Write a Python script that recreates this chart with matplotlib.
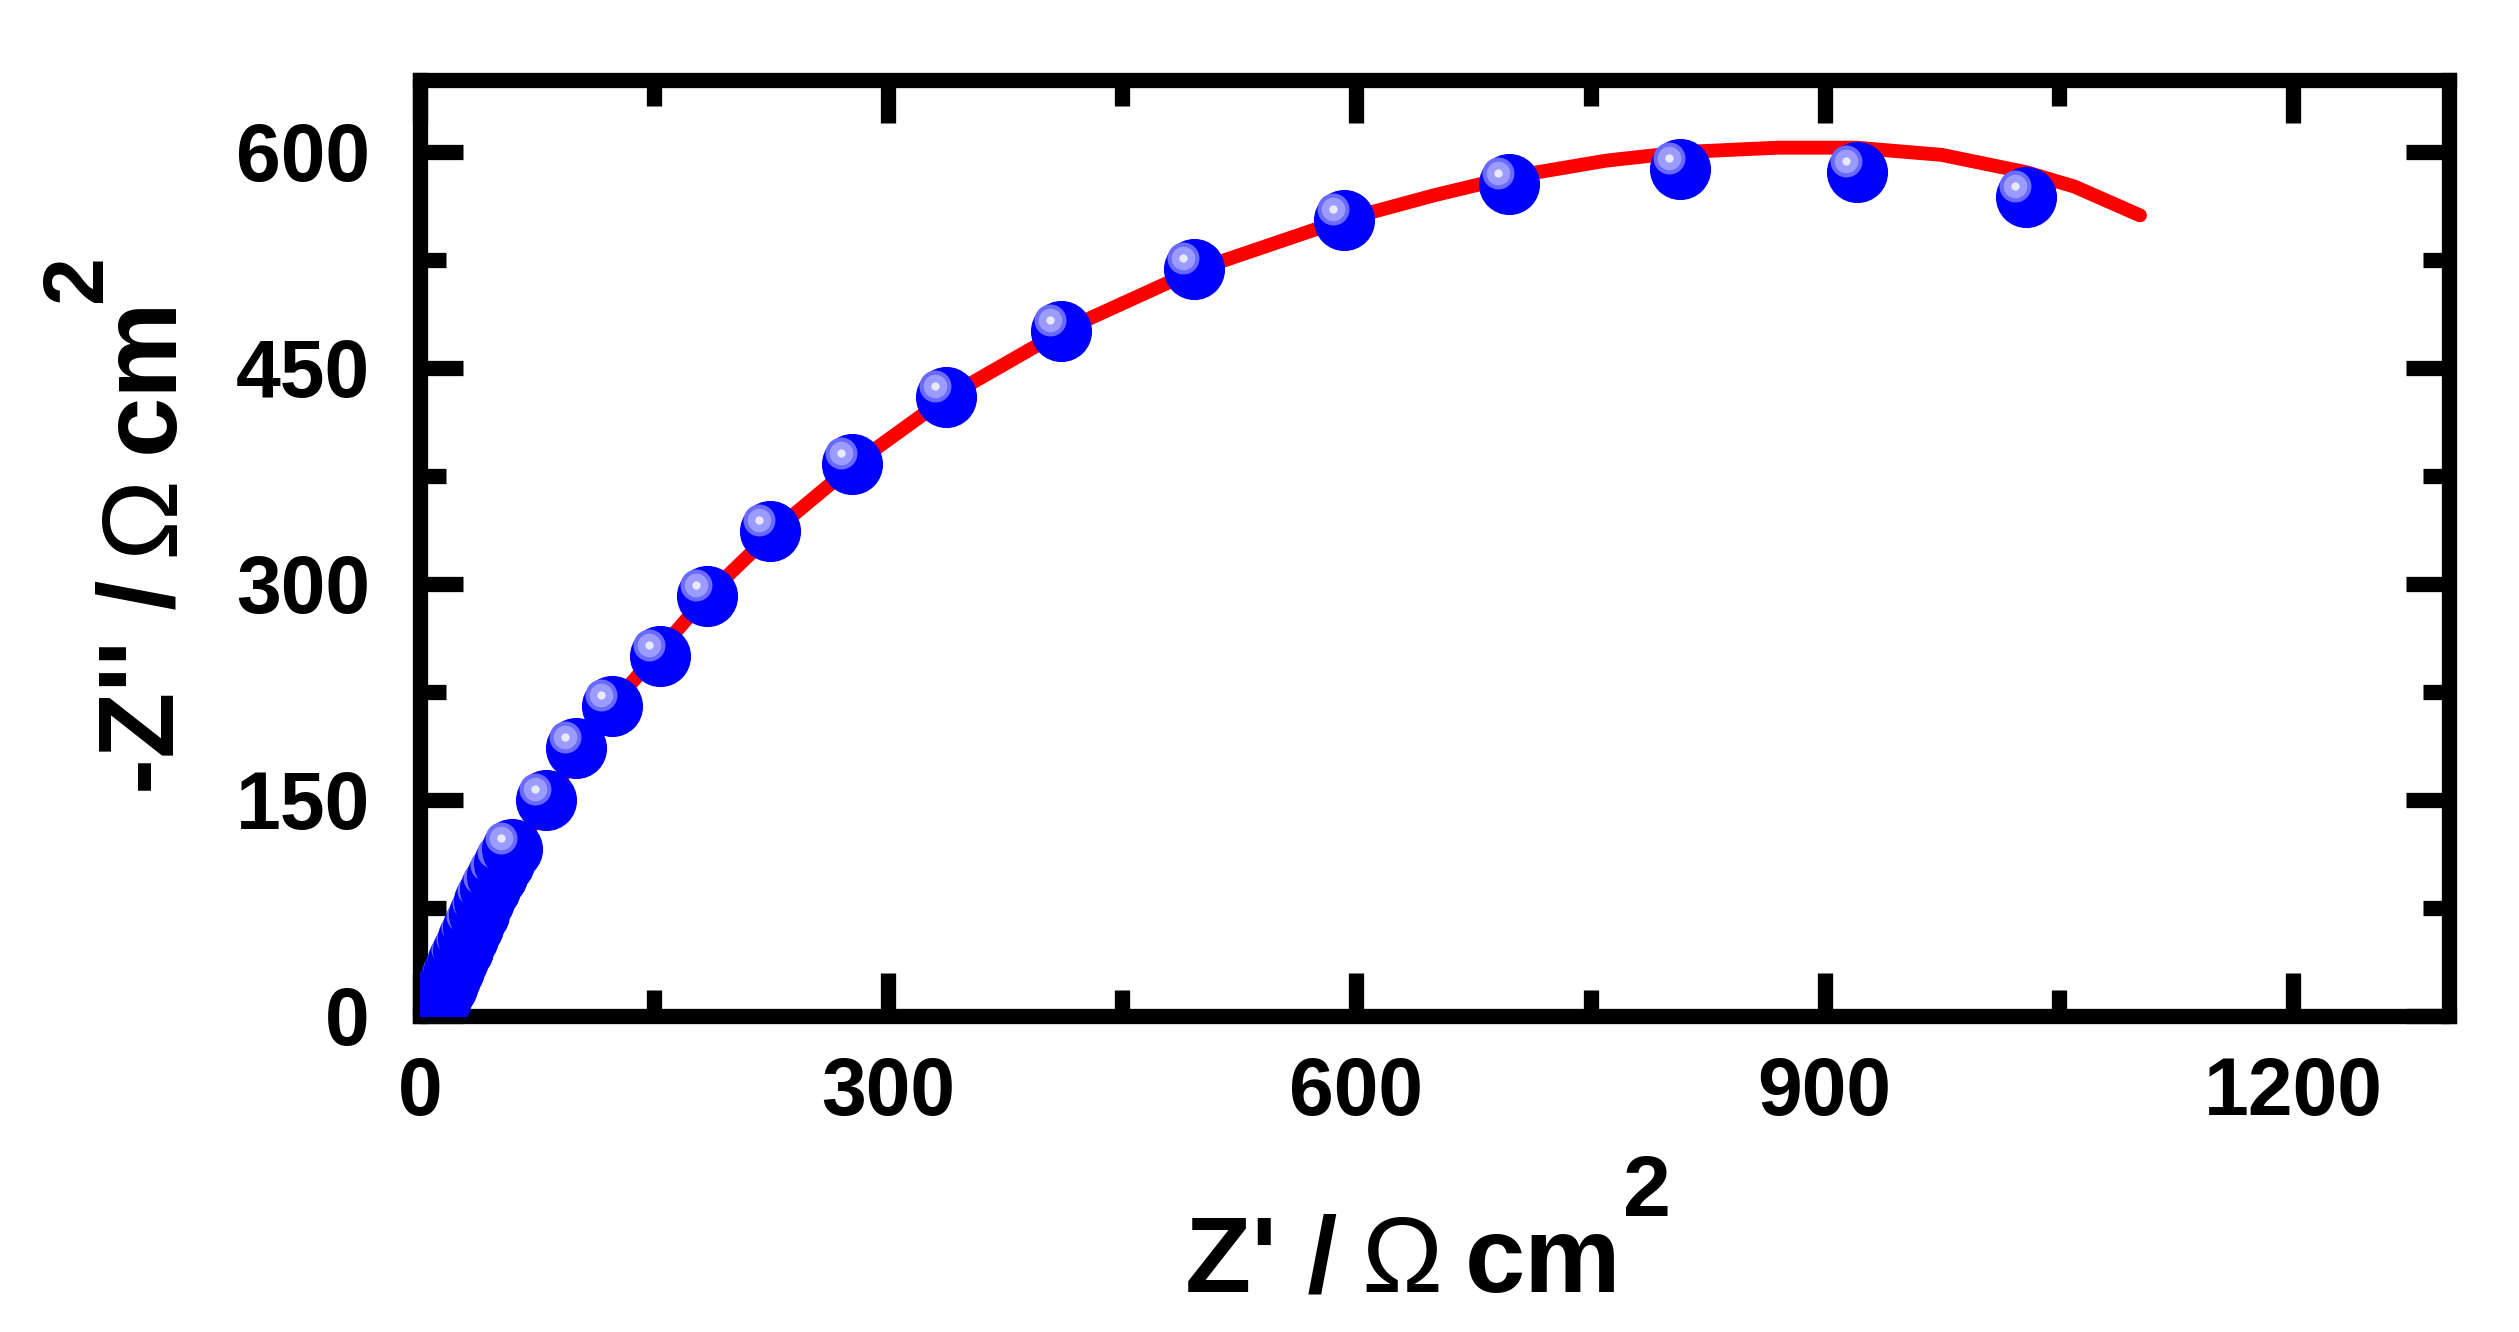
import matplotlib
matplotlib.use("Agg")
import matplotlib.pyplot as plt
import matplotlib.transforms as mtransforms
from matplotlib.ticker import MultipleLocator

W, H = 2519, 1332

z_re = [10, 11.5, 13, 15, 17, 19.5, 22, 24.5, 27.5, 30.5, 34, 37.5, 41, 45, 49.5, 54, 59,
        81, 100, 123, 154, 184, 224.5, 277, 337, 411, 496, 592, 698, 807, 921, 1029]
z_im = [2, 6, 10, 15, 20, 26, 32, 39, 46, 54, 62, 71, 80, 88, 97, 106, 116,
        150, 186, 215, 250, 292, 337, 383, 430, 476, 519, 553, 578, 588, 586, 569]

# fitted curve
fit_re = [11, 15, 25, 40, 60, 83, 101, 125, 152, 184, 226, 278, 338, 412, 497, 592,
          650, 700, 760, 810, 870, 920, 975, 1029, 1060, 1102]
fit_im = [0, 10, 35, 75, 113, 150, 185, 218, 252, 292, 336, 383, 430, 476, 518, 553,
          570, 583, 594, 600, 603, 603, 598, 586, 576, 556]

x_major, x_minor = 300, 150
y_major, y_minor = 150, 75

plt.rcParams['font.family'] = 'Liberation Sans'
plt.rcParams['font.weight'] = 'bold'

fig = plt.figure(figsize=(W / 100, H / 100), dpi=100)
ax = fig.add_axes([420 / W, 1 - 1016 / H, (2449 - 420) / W, (1016 - 80) / H])

ax.plot(fit_re, fit_im, color='#ff0000', lw=10, solid_capstyle='round', zorder=2)

# blue "spheres": dark ball + light highlight up-left
hl = mtransforms.offset_copy(ax.transData, fig=fig, x=-11, y=11, units='dots')
for x, y in zip(z_re, z_im):
    ax.plot([x], [y], 'o', ms=43, color='#0000ff', mec='#0000ff', zorder=3)
    ax.plot([x], [y], 'o', ms=20, color='#9c9cff', mec='#6a6aff', mew=3,
            transform=hl, zorder=3)
    ax.plot([x], [y], 'o', ms=6, color='#e8e8ff', mec='none', transform=hl, zorder=3)

ax.set_xlim(0, 1300)
ax.set_ylim(0, 650)
ax.xaxis.set_major_locator(MultipleLocator(x_major))
ax.xaxis.set_minor_locator(MultipleLocator(x_minor))
ax.yaxis.set_major_locator(MultipleLocator(y_major))
ax.yaxis.set_minor_locator(MultipleLocator(y_minor))
ax.tick_params(which='both', direction='in', top=True, right=True, width=11)
ax.tick_params(which='major', length=31)
ax.tick_params(which='minor', length=19)
ax.tick_params(axis='x', labelsize=58, pad=29)
ax.tick_params(axis='y', labelsize=58, pad=36)
for s in ax.spines.values():
    s.set_linewidth(11)

fs = 78

# x label: Z' / Ω cm²
t1 = fig.text(1185 / W, 1 - 1292 / H, "Z' /", fontsize=fs, ha='left', va='baseline')
t2 = ax.annotate("Ω", xy=(1, 0), xycoords=t1, xytext=(24, 0), textcoords='offset pixels',
                 fontsize=fs, fontweight='normal', ha='left', va='bottom')
t3 = ax.annotate("cm", xy=(1, 0), xycoords=t2, xytext=(22, 0), textcoords='offset pixels',
                 fontsize=fs, ha='left', va='bottom')
ax.annotate("2", xy=(1, 0), xycoords=t3, xytext=(2, 80), textcoords='offset pixels',
            fontsize=62, ha='left', va='bottom')

# y label: -Z'' / Ω cm²
u1 = fig.text(173 / W, 1 - 794 / H, "-Z'' /", fontsize=fs, rotation=90,
              rotation_mode='anchor', ha='left', va='baseline')
u2 = ax.annotate("Ω", xy=(1, 1), xycoords=u1, xytext=(0, 24), textcoords='offset pixels',
                 fontsize=fs, fontweight='normal', rotation=90, ha='right', va='bottom')
u3 = ax.annotate("cm", xy=(1, 1), xycoords=u2, xytext=(0, 22), textcoords='offset pixels',
                 fontsize=fs, rotation=90, ha='right', va='bottom')
ax.annotate("2", xy=(0, 1), xycoords=u3, xytext=(24, -6), textcoords='offset pixels',
            fontsize=62, rotation=90, ha='right', va='bottom')

fig.savefig('out.png', dpi=100, facecolor='white')
